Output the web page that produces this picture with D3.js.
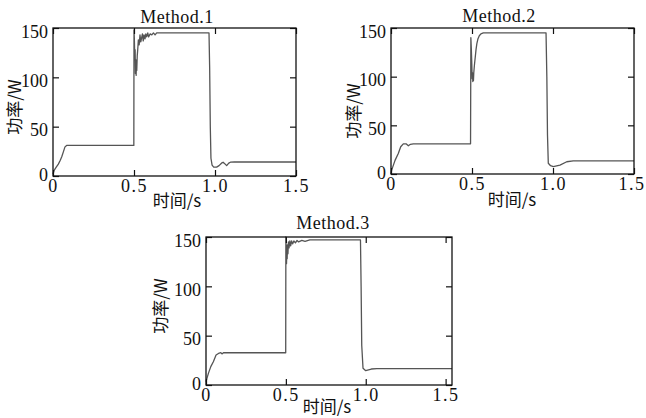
<!DOCTYPE html>
<html>
<head>
<meta charset="utf-8">
<script src="https://cdn.jsdelivr.net/npm/d3@7"></script>
<style>
    body { margin: 0; background: #fff; }
</style>
</head>
<body>
<div id="chart"></div>
<script>
// tick values / labels
const xTicks = [0, 0.5, 1.0, 1.5];
const xTickLabels = ['0', '0.5', '1.0', '1.5'];
const yTicks = [0, 50, 100, 150];
const yTickLabels = ['0', '50', '100', '150'];
const titles = ['Method.1', 'Method.2', 'Method.3'];
const xLabel = '时间/s';
const yLabel = '功率/W';

// Method.1: time (s) and power (W)
const time1 = [0, 0.008, 0.02, 0.033, 0.045, 0.054, 0.065, 0.074, 0.084, 0.1, 0.3, 0.499,
    0.5, 0.502, 0.505, 0.507, 0.509, 0.511, 0.513, 0.515, 0.517, 0.52, 0.523, 0.527, 0.532,
    0.537, 0.542, 0.547, 0.552, 0.557, 0.562, 0.568, 0.573, 0.578, 0.585, 0.59, 0.6, 0.61,
    0.62, 0.63, 0.64, 0.66, 0.8, 0.963, 0.967, 0.971, 0.975, 0.982, 0.992, 1.01, 1.025,
    1.04, 1.05, 1.06, 1.072, 1.085, 1.095, 1.12, 1.3, 1.5];
const power1 = [2, 6, 9, 12, 16, 19.5, 25, 29.5, 31, 31, 31, 31,
    148, 140, 118, 128, 104, 118, 102, 112, 107, 122, 128, 138, 133,
    143, 136, 140, 144, 137, 143, 139, 144, 141, 145, 141, 144, 143,
    145, 143, 145, 145, 145, 145, 110, 50, 18, 11, 9, 9, 10.5,
    13, 14, 12.5, 10.5, 13, 14, 14.2, 14.2, 14.2];

// Method.2
const time2 = [0, 0.004, 0.025, 0.045, 0.06, 0.076, 0.093, 0.107, 0.12, 0.138, 0.3, 0.491,
    0.493, 0.496, 0.499, 0.501, 0.503, 0.505, 0.507, 0.509, 0.511, 0.515, 0.52, 0.525,
    0.53, 0.537, 0.545, 0.555, 0.57, 0.8, 0.957, 0.962, 0.966, 0.971, 0.985, 1.002,
    1.043, 1.085, 1.125, 1.3, 1.5];
const power2 = [0, 4, 14, 21, 28, 31, 31, 29, 30.5, 31, 31, 31,
    140, 128, 112, 98, 104, 95, 101, 96, 104, 112, 120, 128,
    134, 139, 142, 144, 145, 145, 145, 100, 40, 11, 8.5, 7.5,
    9.2, 12.6, 13.4, 13.4, 13.4];

// Method.3
const time3 = [0, 0.015, 0.03, 0.046, 0.063, 0.078, 0.093, 0.1, 0.109, 0.3, 0.499,
    0.5, 0.502, 0.504, 0.506, 0.508, 0.51, 0.513, 0.516, 0.52, 0.525, 0.53, 0.536,
    0.542, 0.55, 0.56, 0.57, 0.58, 0.6, 0.62, 0.65, 0.8, 0.967, 0.971, 0.975, 0.983,
    1.0, 1.035, 1.07, 1.3, 1.54];
const power3 = [3.4, 11.8, 18.6, 23.6, 30.4, 32, 32.7, 31.5, 32.7, 32.7, 32.7,
    150, 140, 123, 138, 128, 142, 133, 145, 139, 146, 141, 146,
    143, 146, 144, 146.5, 145, 146.5, 145.5, 147, 147, 147, 100, 40, 17,
    14.5, 16.2, 16.5, 16.5, 16.5];

const panels = [
    { left: 53, right: 296, top: 28, bottom: 176, xMax: 1.5,
      titleX: 177, titleY: 23, xlabX: 177, xlabY: 207, ylabX: 13, ylabY: 107 },
    { left: 391, right: 634, top: 28, bottom: 174, xMax: 1.5,
      titleX: 499, titleY: 22, xlabX: 512, xlabY: 206, ylabX: 352, ylabY: 111 },
    { left: 206, right: 452, top: 237, bottom: 385, xMax: 1.54,
      titleX: 333, titleY: 229, xlabX: 327, xlabY: 413, ylabX: 159, ylabY: 306 }
];
const series = [[time1, power1], [time2, power2], [time3, power3]];

const WIDTH = 646;
const HEIGHT = 418;
const SERIF = "'Liberation Serif', 'Times New Roman', 'DejaVu Serif', serif";
const CJK = "'Noto Sans CJK SC', 'Liberation Mono', sans-serif";

const svg = d3.select('#chart').append('svg')
    .attr('width', WIDTH)
    .attr('height', HEIGHT);
svg.append('rect').attr('width', WIDTH).attr('height', HEIGHT).attr('fill', '#fff');

const drawPanel = (p, i) => {
    const [times, powers] = series[i];
    const data = times.map((t, k) => ({ t, p: powers[k] }));

    const x = d3.scaleLinear().domain([0, p.xMax]).range([p.left, p.right]);
    const y = d3.scaleLinear().domain([0, 150]).range([p.bottom, p.top]);

    const g = svg.append('g');

    // curve
    const line = d3.line().x((d) => x(d.t)).y((d) => y(d.p));
    g.append('path')
        .datum(data)
        .attr('fill', 'none')
        .attr('stroke', '#555')
        .attr('stroke-width', 1.3)
        .attr('stroke-linejoin', 'round')
        .attr('d', line);

    // bottom axis, ticks inside
    const xAxis = g.append('g')
        .attr('transform', `translate(0, ${p.bottom})`)
        .call(d3.axisBottom(x).tickValues(xTicks).tickSize(-6).tickPadding(3)
            .tickFormat((d, k) => xTickLabels[k]));
    xAxis.selectAll('text')
        .style('font-family', SERIF)
        .style('font-size', '18px')
        .style('letter-spacing', '1.5px')
        .style('fill', '#111');

    // keep labels inside the page (the last one of the right panel sits at the edge)
    xAxis.selectAll('text').each(function (d) {
        const w = this.getComputedTextLength();
        const over = x(d) + w / 2 - (WIDTH - 1);
        if (over > 0) d3.select(this).attr('dx', -over);
    });

    // left axis
    const yAxis = g.append('g')
        .attr('transform', `translate(${p.left}, 0)`)
        .call(d3.axisLeft(y).tickValues(yTicks).tickSize(-6).tickPadding(5)
            .tickFormat((d, k) => yTickLabels[k]));
    yAxis.selectAll('text')
        .attr('dy', (d) => (d === 0 ? 4 : 9))
        .style('font-family', SERIF)
        .style('font-size', '18px')
        .style('fill', '#111');

    // top and right axes, no labels
    g.append('g')
        .attr('transform', `translate(0, ${p.top})`)
        .call(d3.axisTop(x).tickValues(xTicks).tickSize(-6).tickFormat(''));
    g.append('g')
        .attr('transform', `translate(${p.right}, 0)`)
        .call(d3.axisRight(y).tickValues(yTicks).tickSize(-6).tickFormat(''));

    g.selectAll('.domain').remove();
    g.selectAll('.tick line').attr('stroke', '#111').attr('stroke-width', 1.2);

    // frame
    g.append('rect')
        .attr('x', p.left)
        .attr('y', p.top)
        .attr('width', p.right - p.left)
        .attr('height', p.bottom - p.top)
        .attr('fill', 'none')
        .attr('stroke', '#111')
        .attr('stroke-width', 1.3);

    // title
    g.append('text')
        .attr('x', p.titleX)
        .attr('y', p.titleY)
        .attr('text-anchor', 'middle')
        .style('font-family', SERIF)
        .style('font-size', '18px')
        .style('letter-spacing', '0.5px')
        .style('fill', '#111')
        .text(titles[i]);

    // x label
    g.append('text')
        .attr('x', p.xlabX)
        .attr('y', p.xlabY)
        .attr('text-anchor', 'middle')
        .style('font-family', CJK)
        .style('font-size', '17px')
        .style('fill', '#111')
        .text(xLabel);

    // y label
    g.append('text')
        .attr('transform', `translate(${p.ylabX}, ${p.ylabY}) rotate(-90)`)
        .attr('text-anchor', 'middle')
        .attr('dominant-baseline', 'central')
        .style('font-family', CJK)
        .style('font-size', '17px')
        .style('fill', '#111')
        .text(yLabel);
};

panels.forEach(drawPanel);
</script>
</body>
</html>
